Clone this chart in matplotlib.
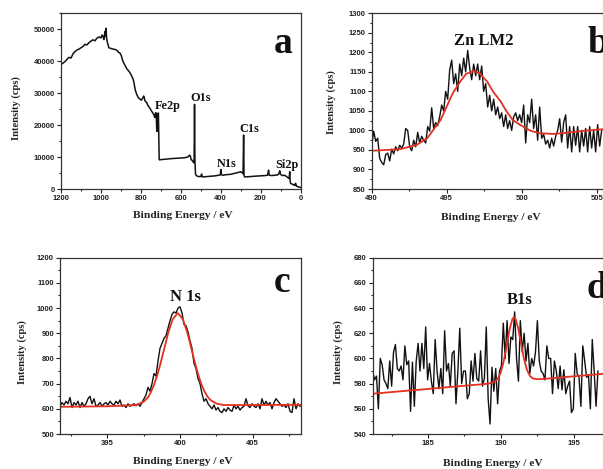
import numpy as np
import matplotlib
matplotlib.use("Agg")
import matplotlib.pyplot as plt
from matplotlib.ticker import MultipleLocator

# ---------------- data ----------------
# (a) survey spectrum
a_energy = [1200, 1190, 1180, 1170, 1160, 1150, 1140, 1130, 1120, 1110, 1100, 1090, 1080, 1070,
            1060, 1050, 1040, 1030, 1020, 1010, 1000, 995, 990, 985, 980, 976, 974, 972, 968,
            960, 950, 940, 930, 920, 910, 905, 898, 890, 880, 870, 860, 850, 840, 835, 828, 820,
            812, 805, 798, 792, 786, 783, 780, 775, 770, 765, 760, 750, 740, 734, 730, 726, 723,
            720, 717, 715, 712, 710, 708, 706, 700, 680, 650, 620, 600, 580, 565, 556, 552, 548,
            545, 540, 535, 533, 531, 529, 526, 520, 510, 500, 495, 492, 485, 470, 450, 430, 410,
            402, 399, 396, 390, 370, 350, 330, 310, 300, 292, 288, 285, 283, 280, 270, 250, 230,
            200, 180, 165, 160, 157, 154, 145, 130, 115, 108, 104, 101, 98, 90, 80, 70, 62, 57,
            54, 52, 50, 45, 40, 32, 28, 25, 20, 12, 5, 0]
a_counts = [39000, 39400, 39900, 40600, 41200, 41000, 42300, 43000, 43500, 43800, 44200, 44600,
            45300, 45100, 45800, 46300, 46700, 46400, 47200, 47600, 47300, 48200, 47800, 46800,
            49300, 47900, 50300, 47500, 46000, 44200, 44000, 43800, 43700, 43400, 42700, 42600,
            41800, 40000, 38800, 37600, 36900, 35900, 34600, 33500, 31000, 29500, 28500, 28200,
            27800, 28300, 29100, 28700, 27700, 27300, 27000, 26200, 25800, 24800, 23800, 23100,
            22400, 23900, 23700, 18000, 21000, 23600, 23800, 16000, 9300, 9100, 9200, 9300,
            9500, 9600, 9700, 9800, 10000, 10600, 10300, 9200, 9100, 8700, 8200, 9000, 26500,
            9000, 4600, 4100, 3900, 3900, 4700, 3800, 3800, 3900, 4000, 4100, 4300, 4400, 6100,
            4500, 4300, 4500, 4600, 4900, 5200, 5400, 5100, 4800, 16900, 4200, 3800, 3800, 3900,
            4000, 4100, 4200, 4300, 5900, 4400, 4300, 4200, 4300, 4400, 4800, 5700, 4700, 4500,
            4200, 4300, 3900, 3500, 3300, 5400, 2500, 1800, 1600, 1500, 1200, 1100, 1800, 900,
            700, 600, 500]

# (b) Zn LM2 region
b_counts = [960, 998, 972, 980, 928, 918, 912, 938, 942, 922, 952, 940, 958, 948, 962, 955,
            965, 1005, 1000, 958, 948, 975, 958, 995, 968, 985, 975, 968, 1010, 998, 1058, 1005,
            1020, 1012, 1035, 1065, 1050, 1100, 1080, 1155, 1180, 1120, 1145, 1100, 1170, 1140,
            1185, 1150, 1205, 1160, 1130, 1170, 1140, 1170, 1130, 1165, 1100, 1120, 1060, 1090,
            1050, 1080, 1040, 1060, 1030, 1045, 1010, 1040, 1005, 1025, 1000, 1035, 1045, 1025,
            1040, 1020, 1065, 968, 1040, 1020, 1080, 1005, 1040, 975, 1060, 980, 990, 965, 975,
            955, 980, 960, 985, 1000, 1030, 970, 1020, 1040, 955, 1010, 945, 1010, 962, 1010,
            945, 1000, 960, 1005, 945, 1010, 955, 1000, 945, 1015, 960, 1000]
b_fit_energy = [490.0, 491.0, 491.9, 493.0, 493.7, 494.1, 494.6, 495.0, 495.4, 495.9, 496.3,
                496.8, 497.2, 497.7, 498.1, 498.6, 499.0, 499.4, 499.9, 500.6, 501.2, 502.1,
                503.0, 504.1, 505.4, 507.0]
b_fit_counts = [948, 950, 952, 963, 980, 1001, 1027, 1061, 1095, 1125, 1145, 1152, 1146, 1125,
                1099, 1074, 1048, 1027, 1014, 999, 993, 991, 994, 999, 1003, 1007]

# (c) N 1s region
c_counts = [610, 625, 615, 630, 620, 645, 605, 625, 615, 630, 605, 625, 610, 620, 640, 650, 620,
            640, 610, 615, 625, 610, 620, 625, 615, 630, 620, 615, 630, 620, 635, 610, 615, 605,
            620, 610, 615, 620, 612, 620, 610, 625, 640, 655, 685, 670, 700, 740, 730, 790, 840,
            860, 880, 890, 920, 950, 975, 985, 980, 1000, 1005, 980, 935, 930, 905, 870, 840, 780,
            760, 720, 700, 660, 630, 640, 620, 610, 600, 615, 595, 605, 590, 585, 600, 590, 605,
            595, 590, 615, 600, 610, 595, 605, 610, 640, 612, 605, 620, 610, 605, 620, 600, 640,
            615, 630, 615, 625, 600, 625, 640, 630, 620, 610, 615, 605, 620, 590, 585, 640, 600,
            620, 610]
c_fit_energy = [391.75, 395.0, 397.0, 397.5, 397.8, 398.0, 398.2, 398.4, 398.6, 398.8, 399.0,
                399.2, 399.5, 399.85, 400.2, 400.5, 400.7, 400.9, 401.1, 401.3, 401.5, 401.7,
                401.9, 402.1, 402.5, 403.0, 405.0, 408.3]
c_fit_counts = [608, 610, 615, 628, 645, 666, 693, 726, 766, 811, 857, 903, 956, 980, 956, 904,
                860, 812, 768, 728, 694, 668, 648, 635, 621, 615, 615, 616]

# (d) B1s region
d_counts = [590, 583, 586, 560, 600, 595, 583, 580, 576, 598, 578, 605, 611, 592, 590, 594, 583,
            610, 595, 598, 558, 597, 562, 598, 612, 590, 612, 592, 625, 583, 596, 582, 572, 615,
            590, 576, 592, 572, 622, 590, 596, 578, 604, 606, 564, 590, 624, 580, 590, 590, 568,
            572, 598, 582, 604, 584, 582, 606, 578, 584, 625, 568, 548, 593, 574, 592, 564, 590,
            594, 628, 600, 630, 596, 617, 615, 637, 600, 582, 630, 605, 620, 598, 612, 588, 600,
            594, 605, 630, 598, 590, 588, 583, 610, 600, 600, 572, 598, 590, 576, 594, 575, 591,
            572, 578, 582, 557, 560, 604, 588, 585, 562, 610, 598, 585, 587, 560, 615, 590, 562,
            590]
d_fit_energy = [181.2, 184.0, 187.0, 189.0, 189.5, 189.8, 190.0, 190.2, 190.4, 190.6, 190.8,
                190.9, 191.0, 191.2, 191.4, 191.6, 191.8, 192.0, 192.2, 192.5, 193.0, 195.0, 197.5]
d_fit_counts = [572, 574.8, 577.8, 579.8, 580.9, 583.9, 589.0, 597.8, 610.2, 623.0, 631.5,
                632.7, 631.7, 623.6, 611.2, 599.2, 590.8, 586.1, 584.1, 583.5, 583.8, 585.8, 588.3]

b_energy = np.linspace(490.0, 505.33, len(b_counts))
c_energy = np.linspace(391.75, 408.26, len(c_counts))
d_energy = 181.2 + 0.13 * np.arange(len(d_counts))

# ---------------- figure ----------------
W, H = 603, 469
fig = plt.figure(figsize=(W / 100, H / 100), dpi=100)
fig.patch.set_facecolor("white")

def px_axes(left, top, right, bottom):
    return fig.add_axes([left / W, 1 - bottom / H, (right - left) / W, (bottom - top) / H])

SERIF = ["Liberation Serif", "DejaVu Serif"]
SANS = ["Liberation Sans", "DejaVu Sans"]
BLACK = "#111111"
RED = "#e3301f"

def style(ax, xmaj, xmin, ymaj, ymin):
    ax.xaxis.set_major_locator(MultipleLocator(xmaj))
    ax.xaxis.set_minor_locator(MultipleLocator(xmin))
    ax.yaxis.set_major_locator(MultipleLocator(ymaj))
    ax.yaxis.set_minor_locator(MultipleLocator(ymin))
    ax.tick_params(which="both", direction="out", top=False, right=False,
                   width=0.8, colors="#222222", labelsize=5.5, pad=1.5)
    ax.tick_params(which="major", length=2.8)
    ax.tick_params(which="minor", length=1.5)
    for lab in ax.get_xticklabels() + ax.get_yticklabels():
        lab.set_fontfamily(SANS)
        lab.set_fontweight("bold")
    for sp in ax.spines.values():
        sp.set_linewidth(0.9)
        sp.set_color("#333333")

def labels(ax, xlx, xly, ylx, yly):
    ax.set_xlabel("Binding Energy / eV", fontfamily=SERIF, fontweight="bold", fontsize=8.2,
                  color="#222222")
    ax.set_ylabel("Intensity (cps)", fontfamily=SERIF, fontweight="bold", fontsize=7.6,
                  color="#222222")
    ax.xaxis.set_label_coords(xlx, xly)
    ax.xaxis.label.set_va("center")
    ax.yaxis.set_label_coords(ylx, yly)
    ax.yaxis.label.set_va("center")

# (a)
axa = px_axes(61, 13.3, 300.5, 189)
axa.plot(a_energy, a_counts, color=BLACK, lw=1.1)
axa.set_xlim(1200, 0)
axa.set_ylim(0, 55000)
style(axa, 200, 100, 10000, 5000)
labels(axa, 0.51, -0.148, -0.185, 0.461)
for txt, ex, ey in [("Fe2p", 665, 25040), ("O1s", 500, 27640), ("C1s", 256, 17750),
                    ("N1s", 372, 6980), ("Si2p", 70, 6480)]:
    axa.text(ex, ey, txt, ha="center", va="baseline", fontfamily=SERIF, fontweight="bold",
             fontsize=8.8, color=BLACK)

# (b)
axb = px_axes(371.7, 13.3, 371.7 + 20 * 15, 189)
axb.plot(b_energy, b_counts, color=BLACK, lw=1.0)
axb.plot(b_fit_energy, b_fit_counts, color=RED, lw=1.3)
axb.set_xlim(490, 510)
axb.set_ylim(850, 1300)
style(axb, 5, 2.5, 50, 25)
labels(axb, 0.397, -0.165, -0.136, 0.497)
axb.text(497.5, 1218, "Zn LM2", ha="center", va="baseline", fontfamily=SERIF,
         fontweight="bold", fontsize=12, color=BLACK)

# (c)
axc = px_axes(60, 257.7, 300.6, 434)
axc.plot(c_energy, c_counts, color=BLACK, lw=1.0)
axc.plot(c_fit_energy, c_fit_counts, color=RED, lw=1.3)
axc.set_xlim(391.75, 408.3)
axc.set_ylim(500, 1200)
style(axc, 5, 2.5, 100, 50)
labels(axc, 0.509, -0.157, -0.159, 0.462)
axc.text(400.4, 1028, "N 1s", ha="center", va="baseline", fontfamily=SERIF,
         fontweight="bold", fontsize=12, color=BLACK)

# (d)
axd = px_axes(372.7, 257.7, 372.7 + 18.8 * 14.56, 434)
axd.plot(d_energy, d_counts, color=BLACK, lw=1.0)
axd.plot(d_fit_energy, d_fit_counts, color=RED, lw=1.3)
axd.set_xlim(181.2, 200)
axd.set_ylim(540, 680)
style(axd, 5, 2.5, 20, 10)
labels(axd, 0.44, -0.165, -0.127, 0.462)
axd.text(191.3, 643, "B1s", ha="center", va="baseline", fontfamily=SERIF,
         fontweight="bold", fontsize=12, color=BLACK)

# panel letters
for ch, x, y in [("a", 274, 53), ("b", 587, 53), ("c", 274, 291.7), ("d", 587, 297.5)]:
    fig.text(x / W, 1 - y / H, ch, ha="left", va="baseline", fontfamily=SERIF,
             fontweight="bold", fontsize=27, color=BLACK)

fig.savefig("out.png", dpi=100)
